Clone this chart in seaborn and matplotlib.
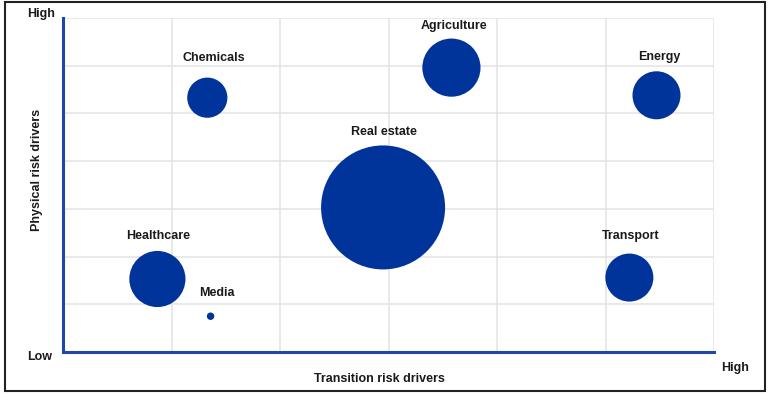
import matplotlib
matplotlib.use("Agg")
import matplotlib.pyplot as plt
import seaborn as sns
import pandas as pd
from matplotlib.patches import Rectangle

# ---- data ----
sectors = ["Chemicals", "Agriculture", "Energy", "Real estate", "Healthcare", "Transport", "Media"]
transition_risk = [1.33, 3.58, 5.47, 2.95, 0.87, 5.22, 1.36]
physical_risk = [5.33, 5.96, 5.38, 3.03, 1.53, 1.56, 0.75]
exposure = [10.5, 22.0, 15.0, 100.0, 20.5, 15.0, 0.36]

df = pd.DataFrame({"sector": sectors, "x": transition_risk, "y": physical_risk, "size": exposure})

# label offsets (points) relative to bubble centre
label_offsets = {
    "Chemicals": (4.7, 28.8),
    "Agriculture": (2.2, 29.9),
    "Energy": (2.2, 27.7),
    "Real estate": (0.7, 54.0),
    "Healthcare": (0.4, 30.6),
    "Transport": (0.7, 29.9),
    "Media": (4.3, 16.9),
}

sns.set_theme(style="white")
plt.rcParams["font.family"] = ["Liberation Sans", "DejaVu Sans"]

fig = plt.figure(figsize=(7.68, 3.94), dpi=100)
ax = fig.add_axes([63 / 768, 42 / 394, 651 / 768, 334 / 394])

blue = "#00349a"
sns.scatterplot(data=df, x="x", y="y", size="size", sizes=(0, 7971), size_norm=(0, 100),
                color=blue, linewidth=0, legend=False, ax=ax, alpha=1)

for _, r in df.iterrows():
    dx, dy = label_offsets[r["sector"]]
    ax.annotate(r["sector"], (r["x"], r["y"]), xytext=(dx, dy), textcoords="offset points",
                ha="center", va="center", fontsize=9, fontweight="bold", color="#1a1a1a")

ax.set_xlim(0, 6)
ax.set_ylim(0, 7)
ax.set_xticks(range(0, 7))
ax.set_yticks(range(0, 8))
ax.tick_params(length=0, labelbottom=False, labelleft=False)
ax.grid(True, color="#e3e3e3", linewidth=1.1)
ax.set_axisbelow(True)
ax.set_xlabel("")
ax.set_ylabel("")
for s in ["top", "right"]:
    ax.spines[s].set_visible(False)
for s in ["left", "bottom"]:
    ax.spines[s].set_color("#1f47a8")
    ax.spines[s].set_linewidth(2.2)

txt = dict(fontsize=9, fontweight="bold", color="#1a1a1a", ha="center", va="center")
fig.text(41 / 768, 1 - 14 / 394, "High", **txt)
fig.text(40 / 768, 1 - 357 / 394, "Low", **txt)
fig.text(735.5 / 768, 1 - 368 / 394, "High", **txt)
fig.text(379.5 / 768, 1 - 379 / 394, "Transition risk drivers", **txt)
fig.text(37 / 768, 1 - 170 / 394, "Physical risk drivers", rotation=90, **txt)

fig.patches.append(Rectangle((5 / 768, 3 / 394), 760 / 768, 389 / 394, transform=fig.transFigure,
                             fill=False, edgecolor="#222222", linewidth=1.5))

fig.savefig("out.png", dpi=100)
